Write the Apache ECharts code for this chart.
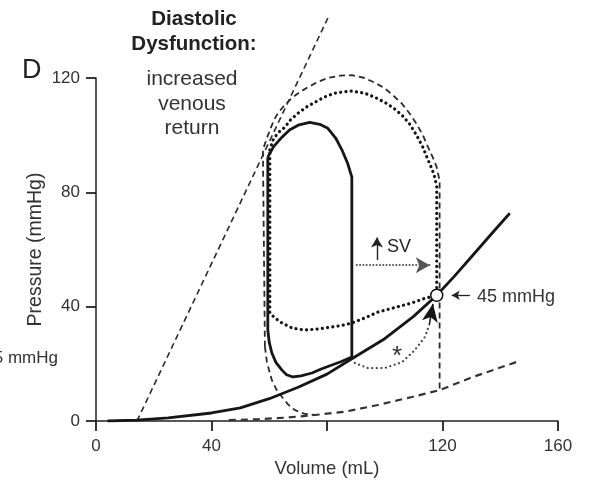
<!DOCTYPE html>
<html>
<head>
	<meta charset="utf-8">
	<title>PV loop - diastolic dysfunction</title>
	<script src="https://cdn.jsdelivr.net/npm/echarts@6/dist/echarts.min.js"></script>
	<style>
		html,body{margin:0;padding:0;background:#fff;}
		#chart{width:590px;height:484px;}
	</style>
</head>
<body>
	<div id="chart"></div>
</body>
<script type="text/javascript">
	// axis ticks (the 80 mL label is not printed in the figure)
	var xTicks=[0,40,80,120,160];
	var xLabels=['0','40','','120','160'];
	var yTicks=[0,40,80,120];

	// end-systolic pressure-volume line (dashed, straight)
	var espvr=[[14.2,0],[80.3,141]];

	// end-diastolic pressure-volume curve (solid)
	var edpvr=[[4,0],[14,0.3],[25,1.1],[40,2.8],[50,4.6],[60,7.8],[70,11.8],[80,16.4],[89.6,22.4],[100,28.8],[110,36.6],[118,44],[124,50.5],[130.5,58],[137,65.5],[143.3,72.7]];

	// lower (normal) diastolic curve (dashed)
	var edpvrLow=[[46,0.3],[56,0.6],[66,1.2],[75.8,2.1],[86,3.2],[97.6,5.6],[109.4,8.4],[119,10.8],[130.5,15.4],[145.5,20.6]];

	// baseline loop (solid)
	var loopSolid=[[59.5,92.3],[61.5,96],[64.4,99.3],[67,101.8],[70,103.5],[74,104.5],[77.5,103.8],[80.3,102.4],[83,99],[85.2,94.8],[87.2,90],[88.6,85.3],[88.6,22.4],[85,20.8],[81.7,19.6],[78,18.2],[74.8,16.8],[71,15.8],[68.2,15.4],[66,16.2],[64.4,17.8],[62.3,20.5],[60.9,23.8],[60,27.5],[59.5,31.8],[59.5,92.3]];

	// increased venous return loop (dotted)
	var loopDotted=[[60.2,94.8],[61.3,98.3],[63,100.8],[65.4,102.8],[67.5,105.5],[70,107.7],[72.8,109.8],[75.8,111.5],[79,113.3],[82.7,114.7],[86,115.2],[88.6,115.4],[93,114.7],[96.5,113.3],[100,111.5],[103,109.5],[106,107],[108.7,103.8],[111,100],[113.2,95.8],[115,91.3],[116.3,88.3],[117.3,85.3],[118,82],[118,44],[113.6,42.8],[109.4,41.3],[103.5,39.7],[97.6,38.1],[93,36],[88.6,34.3],[85,33.4],[81.7,32.9],[77,32.2],[72.3,31.8],[68,32.5],[64.4,34.3],[62,36],[60.2,37.8],[60.2,94.8]];

	// dashed loop: top/right and left/bottom parts
	var loopDashedTop=[[58.5,26],[57.8,94.8],[59,98.5],[60.2,101.7],[61.5,105],[63,107.7],[65.3,110.5],[67.8,113],[70.5,115],[73.4,116.8],[76.8,118.6],[80.3,120],[84.5,120.8],[88.6,121],[93,120],[96.5,118.4],[100,116.4],[103,113.8],[106,111],[108.6,107.6],[111,104],[113.2,100],[115,95.8],[116.6,92.3],[118,88.8],[119,84],[119,10.8]];
	var loopDashedLeft=[[58.5,26],[59.2,20.5],[60.9,14.3],[62.5,11],[64.4,8.4],[66.5,5.8],[68.9,3.8],[72,2.6],[75.8,2.1]];

	// dotted arc marked with *
	var starArc=[[89.6,20.3],[94.2,18.5],[100,18.5],[106,20.6],[110.4,24.8],[113.9,29.4],[115.4,33.5]];
	var starArrow=[[115.4,33.5],[116.7,41]];

	// SV arrows and 45 mmHg pointer
	var svArrow=[[90.3,54.5],[115.6,54.5]];
	var svUp=[[97.3,56.3],[97.3,64.2]];
	var mmArrow=[[129.5,44],[123.2,44]];
	var edpPoint=[[118,44]];

	var myChart=echarts.init(document.getElementById('chart'),null,{renderer:'canvas'});

	function seg(p){
		return [{coord:p[0]},{coord:p[1]}];
	}
	function arrowSeries(p,size,style){
		return {
			type:'line',
			data:[],
			silent:true,
			markLine:{
				silent:true,
				animation:false,
				symbol:['none','arrow'],
				symbolSize:size,
				label:{show:false},
				lineStyle:style,
				data:[seg(p)]
			}
		};
	}

	var black='#161616';
	var font='Liberation Sans';
	var dotted={color:black,width:3.2,type:[0.1,5.2],cap:'round'};
	var dashed={color:'#2b2b2b',width:1.8,type:[6,4]};

	var option={
		animation:false,
		grid:{left:96,right:32,top:78,bottom:63,outerBoundsMode:'none'},
		xAxis:{
			type:'value',min:xTicks[0],max:xTicks[xTicks.length-1],interval:40,
			name:'Volume (mL)',nameLocation:'middle',nameGap:36,
			nameTextStyle:{fontSize:18.5,color:'#333',fontFamily:font},
			axisLine:{show:true,lineStyle:{color:'#222',width:1.5}},
			axisTick:{show:true,length:10,lineStyle:{color:'#222',width:1.8}},
			axisLabel:{fontSize:17,color:'#333',margin:17,fontFamily:font,
				formatter:function(v){return xLabels[xTicks.indexOf(v)];}},
			splitLine:{show:false}
		},
		yAxis:{
			type:'value',min:yTicks[0],max:yTicks[yTicks.length-1],interval:40,
			name:'Pressure (mmHg)',nameLocation:'middle',nameGap:50,nameMoveOverlap:false,
			nameTextStyle:{fontSize:19.5,color:'#333',fontFamily:font},
			axisLine:{show:true,lineStyle:{color:'#222',width:1.5}},
			axisTick:{show:true,length:10,lineStyle:{color:'#222',width:1.8}},
			axisLabel:{fontSize:17,color:'#333',margin:16,fontFamily:font},
			splitLine:{show:false}
		},
		series:[
			{type:'line',data:espvr,showSymbol:false,clip:false,lineStyle:{color:'#2b2b2b',width:1.6,type:[6,4]}},
			{type:'line',data:edpvrLow,showSymbol:false,lineStyle:{color:'#333',width:2.2,type:[7,5]}},
			{type:'line',data:loopDashedTop,showSymbol:false,clip:false,lineStyle:dashed},
			{type:'line',data:loopDashedLeft,showSymbol:false,lineStyle:dashed},
			{type:'line',data:loopDotted,showSymbol:false,lineStyle:dotted},
			{type:'line',data:loopSolid,showSymbol:false,lineStyle:{color:black,width:2.8,join:'round'}},
			{type:'line',data:edpvr,showSymbol:false,lineStyle:{color:black,width:2.8}},
			{type:'line',data:starArc,showSymbol:false,lineStyle:{color:'#444',width:2.2,type:[0.1,4.5],cap:'round'}},
			arrowSeries(starArrow,[12,18],{color:black,width:1.5,type:'solid'}),
			arrowSeries(svArrow,[12,14],{color:'#555',width:2,type:[0.1,3.2],cap:'round'}),
			arrowSeries(svUp,[9,10],{color:'#222',width:1.4,type:'solid'}),
			arrowSeries(mmArrow,[7,8],{color:'#222',width:1.3,type:'solid'}),
			{type:'scatter',data:edpPoint,symbol:'circle',symbolSize:12,z:10,
				itemStyle:{color:'#fff',opacity:1,borderColor:'#111',borderWidth:1.5}}
		],
		graphic:[
			{type:'text',left:22,top:57,style:{text:'D',fontSize:27,fill:'#222',fontFamily:font}},
			{type:'text',x:194,y:19,style:{text:'Diastolic',fontSize:20.5,fontWeight:'bold',fill:'#222',align:'center',verticalAlign:'middle',fontFamily:font}},
			{type:'text',x:194,y:44,style:{text:'Dysfunction:',fontSize:20.5,fontWeight:'bold',fill:'#222',align:'center',verticalAlign:'middle',fontFamily:font}},
			{type:'text',x:192,y:79,style:{text:'increased',fontSize:21,fill:'#333',align:'center',verticalAlign:'middle',fontFamily:font}},
			{type:'text',x:192,y:104,style:{text:'venous',fontSize:21,fill:'#333',align:'center',verticalAlign:'middle',fontFamily:font}},
			{type:'text',x:192,y:128,style:{text:'return',fontSize:21,fill:'#333',align:'center',verticalAlign:'middle',fontFamily:font}},
			{type:'text',x:387,y:247,style:{text:'SV',fontSize:18,fill:'#222',verticalAlign:'middle',fontFamily:font}},
			{type:'text',x:397,y:357,style:{text:'*',fontSize:26,fill:'#333',align:'center',verticalAlign:'middle',fontFamily:font}},
			{type:'text',x:477,y:297,style:{text:'45 mmHg',fontSize:18,fill:'#333',verticalAlign:'middle',fontFamily:font}},
			{type:'text',x:58,y:358,style:{text:'5 mmHg',fontSize:17,fill:'#333',align:'right',verticalAlign:'middle',fontFamily:font}}
		]
	};

	myChart.setOption(option);

	window.addEventListener('resize',()=>{
		myChart.resize();
	});
</script>
</html>
